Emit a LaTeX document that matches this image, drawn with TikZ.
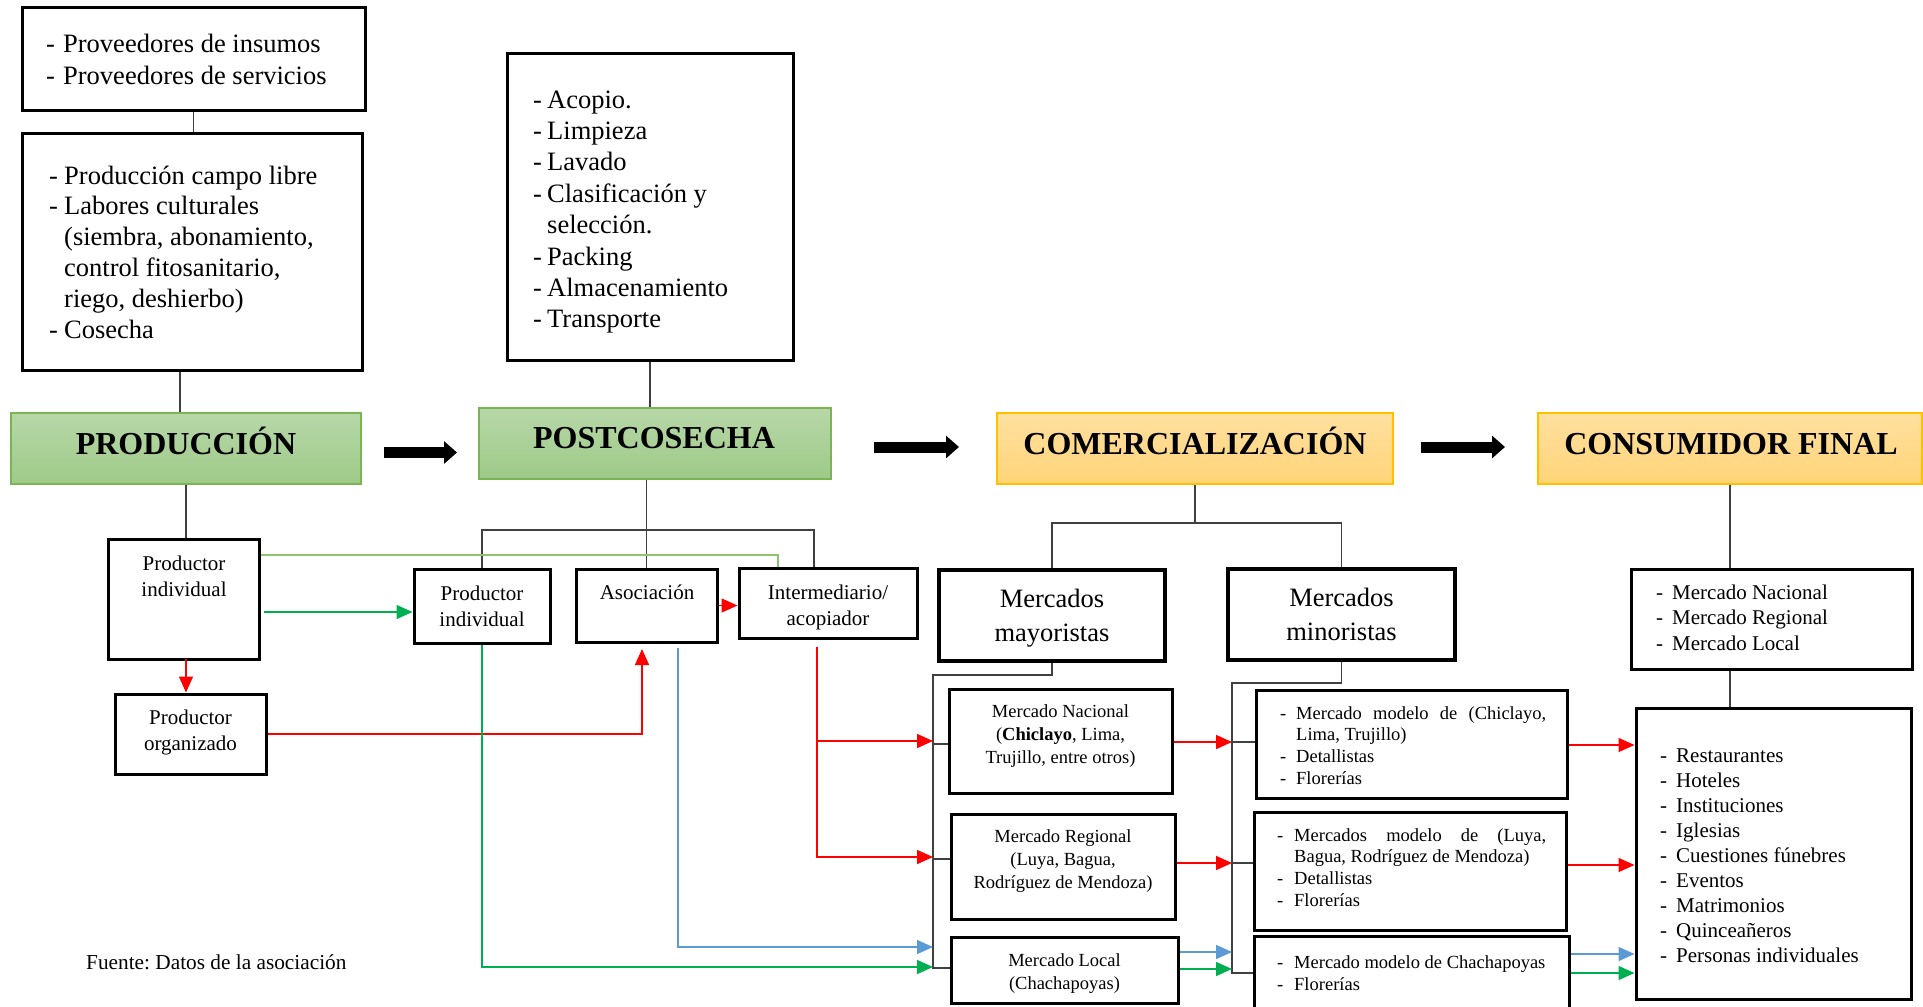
\documentclass[tikz,border=0pt]{standalone}
\usepackage{fontspec}
\setmainfont{Liberation Serif}
\usetikzlibrary{arrows.meta}
\definecolor{connc}{RGB}{64,64,64}
\definecolor{lgreen}{RGB}{143,196,111}
\definecolor{dgreen}{RGB}{0,176,80}
\definecolor{myblue}{RGB}{91,155,213}
\definecolor{myred}{RGB}{255,0,0}
\definecolor{gtop}{RGB}{183,215,168}
\definecolor{gbot}{RGB}{158,202,136}
\definecolor{gbord}{RGB}{122,181,84}
\definecolor{otop}{RGB}{255,224,160}
\definecolor{obot}{RGB}{255,212,120}
\definecolor{obord}{RGB}{255,192,0}
\newcommand\fsz[2]{\fontsize{#1}{#2}\selectfont}
\newcommand\dsh[1]{\makebox[#1pt][l]{-}}
\newcommand\BX[6]{\node[#2, minimum width={#5-#3}, minimum height={#6-#4}] (#1) at ({(#3+#5)/2},{(#4+#6)/2}) {};}
\newcommand\BXT[7]{\node[#2, minimum width={#5-#3}, minimum height={#6-#4}] (#1) at ({(#3+#5)/2},{(#4+#6)/2}) {#7};}
\begin{document}
\frenchspacing
\begin{tikzpicture}[x=1pt,y=-1pt,
  box/.style={draw=black, line width=3pt, inner sep=0pt},
  tbox/.style={box, align=center, font=\fsz{21}{26}},
  gtitle/.style={draw=gbord, line width=1.5pt, top color=gtop, bottom color=gbot, inner sep=0pt},
  otitle/.style={draw=obord, line width=1.5pt, top color=otop, bottom color=obot, inner sep=0pt},
  ttxt/.style={font=\fsz{32}{36}\bfseries, inner sep=0pt, anchor=base},
  lst/.style={align=left, inner sep=0pt, anchor=west},
  ctxt/.style={align=center, inner sep=0pt},
  cline/.style={draw=connc, line width=1.5pt},
  lgline/.style={draw=lgreen, line width=1.5pt},
  tipped/.style={line width=1.5pt, -{Triangle[length=16pt,width=14pt]}},
  rarr/.style={tipped, draw=myred},
  garr/.style={tipped, draw=dgreen},
  barr/.style={tipped, draw=myblue},
  bigarr/.style={draw=black, line width=11pt, -{Triangle[length=13pt,width=22pt]}}
]
\useasboundingbox (0,0) rectangle (1923,1007);

% ---- title boxes
\BX{prod}{gtitle}{11}{413}{361}{484}
\node[ttxt] (prodt) at (186,454) {PRODUCCIÓN};
\BX{post}{gtitle}{479}{408}{831}{479}
\node[ttxt] (postt) at (654,448) {POSTCOSECHA};
\BX{com}{otitle}{997}{413}{1393}{484}
\node[ttxt] (comt) at (1195,454) {COMERCIALIZACIÓN};
\BX{cons}{otitle}{1538}{413}{1922}{484}
\node[ttxt] (const) at (1731,454) {CONSUMIDOR FINAL};

% ---- upper lists
\BX{prov}{box}{22}{7}{365}{110}
\node[lst, font=\fsz{26.5}{32}] (provt) at (46,59) {\dsh{17}Proveedores de insumos\\\dsh{17}Proveedores de servicios};
\BX{prodl}{box}{22}{133}{362}{370}
\node[lst, font=\fsz{26.5}{30.8}] (prodlt) at (49,252) {\dsh{15}Producción campo libre\\\dsh{15}Labores culturales\\\hspace*{15pt}(siembra, abonamiento,\\\hspace*{15pt}control fitosanitario,\\\hspace*{15pt}riego, deshierbo)\\\dsh{15}Cosecha};
\BX{postl}{box}{507}{53}{793}{360}
\node[lst, font=\fsz{26.5}{31.4}] (postlt) at (533,212) {\dsh{14}Acopio.\\\dsh{14}Limpieza\\\dsh{14}Lavado\\\dsh{14}Clasificación y\\\hspace*{14pt}selección.\\\dsh{14}Packing\\\dsh{14}Almacenamiento\\\dsh{14}Transporte};

% ---- producers
\BX{pi1}{box}{108}{539}{259}{659}
\node[ctxt, font=\fsz{21}{26}] (pi1t) at (184,576) {Productor\\individual};
\BX{org}{box}{115}{694}{266}{774}
\node[ctxt, font=\fsz{21}{26}] (orgt) at (190.5,732.5) {Productor\\organizado};
\BXT{pi2}{tbox}{414}{569}{550}{643}{Productor\\individual}
\BX{asoc}{box}{576}{569}{717}{642}
\node[ctxt, font=\fsz{21}{26}] (asoct) at (647,592) {Asociación};
\BX{inter}{box}{739}{568}{917}{638}
\node[ctxt, font=\fsz{21}{26}] (intert) at (828,607.5) {Intermediario/\\acopiador};

% ---- markets
\BX{mayor}{box, line width=4.5pt}{939}{570}{1165}{661}
\node[ctxt, font=\fsz{26.5}{34}] (mayort) at (1052,618) {Mercados\\mayoristas};
\BXT{minor}{tbox, line width=4.5pt, font=\fsz{26.5}{34}}{1228}{569}{1455}{660}{Mercados\\minoristas}
\BX{nac}{box}{949}{689}{1172}{793}
\node[ctxt, font=\fsz{18.5}{23}] (nact) at (1060.5,736.2) {Mercado Nacional\\(\textbf{Chiclayo}, Lima,\\Trujillo, entre otros)};
\BX{reg}{box}{951}{814}{1175}{919}
\node[ctxt, font=\fsz{18.5}{23}] (regt) at (1063,861.5) {Mercado Regional\\(Luya, Bagua,\\Rodríguez de Mendoza)};
\BX{loc}{box}{951}{937}{1178}{1003}
\node[ctxt, font=\fsz{18.5}{23}] (loct) at (1064.5,973.5) {Mercado Local\\(Chachapoyas)};
\BX{min1}{box}{1256}{690}{1567}{798}
\node[lst, font=\fsz{18.5}{21.7}] (min1t) at (1280,745.5) {\dsh{16}\makebox[250pt][s]{Mercado modelo de (Chiclayo,}\\\hspace*{16pt}Lima, Trujillo)\\\dsh{16}Detallistas\\\dsh{16}Florerías};
\BX{min2}{box}{1254}{812}{1566}{930}
\node[lst, font=\fsz{18.5}{21.7}] (min2t) at (1277,867.5) {\dsh{17}\makebox[252pt][s]{Mercados modelo de (Luya,}\\\hspace*{17pt}Bagua, Rodríguez de Mendoza)\\\dsh{17}Detallistas\\\dsh{17}Florerías};
\BX{min3}{box}{1254}{936}{1569}{1011}
\node[lst, font=\fsz{18.5}{21.7}] (min3t) at (1277,973.5) {\dsh{17}Mercado modelo de Chachapoyas\\\dsh{17}Florerías};

% ---- consumer
\BX{consl}{box}{1631}{569}{1912}{669}
\node[lst, font=\fsz{21}{25.5}] (conslt) at (1656,617.5) {\dsh{16}Mercado Nacional\\\dsh{16}Mercado Regional\\\dsh{16}Mercado Local};
\BX{big}{box}{1636}{708}{1911}{999}
\node[lst, font=\fsz{21}{25}] (bigt) at (1660,856) {\dsh{16}Restaurantes\\\dsh{16}Hoteles\\\dsh{16}Instituciones\\\dsh{16}Iglesias\\\dsh{16}Cuestiones fúnebres\\\dsh{16}Eventos\\\dsh{16}Matrimonios\\\dsh{16}Quinceañeros\\\dsh{16}Personas individuales};

\node[anchor=west, inner sep=0pt, font=\fsz{21.3}{25}] (fuente) at (86,962) {Fuente: Datos de la asociación};

% ---- coordinates
\coordinate (mb) at (933,675);
\coordinate (nb) at (1232,683);
\coordinate (pbr) at (814,530);
\coordinate (lg) at (778,555);
\coordinate (gs) at (264,612);
\coordinate (au) at (642,649);
\coordinate (ab) at (678,648);
\coordinate (ir) at (817,647);
\coordinate (r1) at (186,659);
\coordinate (a1s) at (384,452.5);
\coordinate (a1e) at (457,452.5);
\coordinate (a2s) at (874,447);
\coordinate (a2e) at (959,447);
\coordinate (a3s) at (1421,447);
\coordinate (a3e) at (1505,447);

% ---- black connectors
\draw[cline] (prov.south) -- (prov.south |- prodl.north);
\draw[cline] (prodl.south -| 180,0) -- (prod.north -| 180,0);
\draw[cline] (prod.south) -- (prod.south |- pi1.north);
\draw[cline] (postl.south) -- (postl.south |- post.north);
\draw[cline] (asoc.north |- post.south) -- (asoc.north);
\draw[cline] (pi2.north) |- (pbr) -- (pbr |- inter.north);
\draw[cline] (com.south) -- (com.south |- 0,523);
\draw[cline] (mayor.north) |- (minor.north |- 0,523) -- (minor.north);
\draw[cline] (cons.south) -- (cons.south |- consl.north);
\draw[cline] (cons.south |- consl.south) -- (cons.south |- big.north);
\draw[cline] (mayor.south) |- (mb) -- (mb |- 0,968) -- (loc.west |- 0,968);
\draw[cline] (mb |- 0,744) -- (nac.west |- 0,744);
\draw[cline] (mb |- 0,859) -- (reg.west |- 0,859);
\draw[cline] (minor.south) |- (nb) -- (nb |- 0,973) -- (min3.west |- 0,973);
\draw[cline] (nb |- 0,742) -- (min1.west |- 0,742);
\draw[cline] (nb |- 0,863) -- (min2.west |- 0,863);

% ---- light green
\draw[lgline] (pi1.east |- lg) -- (lg) -- (lg |- inter.north);

% ---- coloured arrows
\draw[garr] (gs) -- (pi2.west |- gs);
\draw[rarr] (r1) -- (r1 |- org.north);
\draw[rarr] (org.east) -| (au);
\draw[rarr] (asoc.east) -- (asoc.east -| inter.west);
\draw[barr] (ab) |- (mb |- 0,947);
\draw[garr] (pi2.south) |- (mb |- 0,967);
\draw[rarr] (ir) |- (mb |- 0,857);
\draw[rarr] (ir |- 0,741) -- (mb |- 0,741);
\draw[rarr] (nac.east |- 0,742) -- (nb |- 0,742);
\draw[rarr] (reg.east |- 0,863) -- (nb |- 0,863);
\draw[barr] (loc.east |- 0,952) -- (nb |- 0,952);
\draw[garr] (loc.east |- 0,969) -- (nb |- 0,969);
\draw[rarr] (min1.east |- 0,745) -- (big.west |- 0,745);
\draw[rarr] (min2.east |- 0,865) -- (big.west |- 0,865);
\draw[barr] (min3.east |- 0,954) -- (big.west |- 0,954);
\draw[garr] (min3.east |- 0,973) -- (big.west |- 0,973);

% ---- big black arrows
\draw[bigarr] (a1s) -- (a1e);
\draw[bigarr] (a2s) -- (a2e);
\draw[bigarr] (a3s) -- (a3e);
\end{tikzpicture}
\end{document}
